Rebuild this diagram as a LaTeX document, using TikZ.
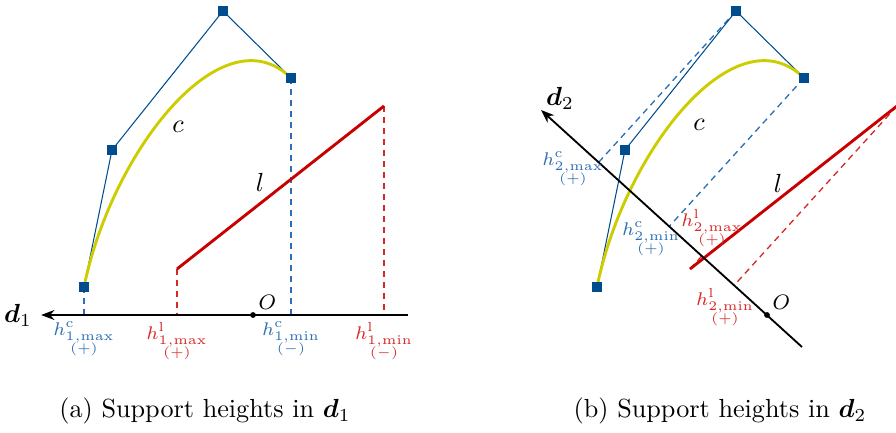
\documentclass[tikz,border=0pt]{standalone}
\usepackage{amsmath,amssymb,bm}
\usepackage{tikz}
\usetikzlibrary{positioning,arrows.meta,calc}
\usepackage{xcolor}
\definecolor{ctrlblue}{RGB}{0,76,140}
\definecolor{hblue}{RGB}{45,110,180}
\definecolor{cyellow}{RGB}{204,204,0}
\definecolor{lred}{RGB}{200,0,0}
\definecolor{hred}{RGB}{215,40,40}

\begin{document}
\begin{tikzpicture}[x=0.382pt,y=-0.382pt,>={Stealth[length=1.8mm]},
  ctrl/.style={rectangle,fill=ctrlblue,inner sep=0pt,minimum size=3.8pt},
  polyline/.style={ctrlblue,line width=0.4pt},
  bez/.style={cyellow,line width=1.1pt},
  seg/.style={lred,line width=1.1pt},
  proj/.style={dash pattern=on 2.4pt off 1.8pt,line width=0.5pt},
  axisline/.style={->,line width=0.7pt},
  origin/.style={circle,fill,inner sep=0pt,minimum size=2.2pt},
  olab/.style={font=\footnotesize,inner sep=1pt},
  hlab/.style={font=\scriptsize,align=center,inner sep=0.5pt}]
\useasboundingbox (0,0) rectangle (896,433);

% (a) support heights in d1
\coordinate (a0) at (84,287);
\coordinate (a1) at (112,150);
\coordinate (a2) at (223,11);
\coordinate (a3) at (291,78);
\coordinate (al0) at (177,269);
\coordinate (al1) at (384,106);
\coordinate (tail1) at (408,315);
\node (d1) at (18,315) {$\bm{d}_1$};
\coordinate (fa0) at ($(tail1)!(a0)!(d1)$);
\coordinate (fa3) at ($(tail1)!(a3)!(d1)$);
\coordinate (fal0) at ($(tail1)!(al0)!(d1)$);
\coordinate (fal1) at ($(tail1)!(al1)!(d1)$);
\draw[proj,hblue] (a0) -- (fa0);
\draw[proj,hblue] (a3) -- (fa3);
\draw[proj,hred] (al0) -- (fal0);
\draw[proj,hred] (al1) -- (fal1);
\draw[polyline] (a0) -- (a1) -- (a2) -- (a3);
\draw[bez] (a0) .. controls (a1) and (a2) .. (a3);
\draw[seg] (al0) -- (al1);
\foreach \p in {a0,a1,a2,a3}
  \node[ctrl] (sq\p) at (\p) {};
\draw[axisline] (tail1) -- (d1);
\node[origin] (o1) at (253,315) {};
\node[olab,above right=0pt and 0pt of o1] (o1lab) {$O$};
\node (ca) at (178,127) {$c$};
\node (la) at (260,182) {$l$};
\node[hlab,text=hblue,below=2pt of fa0] (ha0) {$h^{\mathrm{c}}_{1,\max}$\\[-1.5pt]{\tiny$(+)$}};
\node[hlab,text=hred,below=2pt of fal0] (hal0) {$h^{\mathrm{l}}_{1,\max}$\\[-1.5pt]{\tiny$(+)$}};
\node[hlab,text=hblue,below=2pt of fa3] (ha3) {$h^{\mathrm{c}}_{1,\min}$\\[-1.5pt]{\tiny$(-)$}};
\node[hlab,text=hred,below=2pt of fal1] (hal1) {$h^{\mathrm{l}}_{1,\min}$\\[-1.5pt]{\tiny$(-)$}};
\node (capa) at (205,411) {(a) Support heights in $\bm{d}_1$};

% (b) support heights in d2
\coordinate (b0) at (597,287);
\coordinate (b1) at (625,150);
\coordinate (b2) at (736,11);
\coordinate (b3) at (804,78);
\coordinate (bl0) at (690,269);
\coordinate (bl1) at (897,106);
\coordinate (tail2) at (802,347);
\coordinate (tip2) at (541,110);
\coordinate (fb2) at ($(tail2)!(b2)!(tip2)$);
\coordinate (fb3) at ($(tail2)!(b3)!(tip2)$);
\coordinate (fbl0) at ($(tail2)!(bl0)!(tip2)$);
\coordinate (fbl1) at ($(tail2)!(bl1)!(tip2)$);
\draw[proj,hblue] (b2) -- (fb2);
\draw[proj,hblue] (b3) -- (fb3);
\draw[proj,hred] (bl0) -- (fbl0);
\draw[proj,hred] (bl1) -- (fbl1);
\draw[polyline] (b0) -- (b1) -- (b2) -- (b3);
\draw[bez] (b0) .. controls (b1) and (b2) .. (b3);
\draw[seg] (bl0) -- (bl1);
\foreach \p in {b0,b1,b2,b3}
  \node[ctrl] (sq\p) at (\p) {};
\draw[axisline] (tail2) -- (tip2);
\node (d2) at (560,98) {$\bm{d}_2$};
\node[origin] (o2) at (767,315) {};
\node[olab,above right=0pt and 0pt of o2] (o2lab) {$O$};
\node (cb) at (699,125) {$c$};
\node (lb) at (778,183) {$l$};
\node[hlab,text=hblue] (hb2) at (573,169) {$h^{\mathrm{c}}_{2,\max}$\\[-1.5pt]{\tiny$(+)$}};
\node[hlab,text=hblue] (hb3) at (651,239) {$h^{\mathrm{c}}_{2,\min}$\\[-1.5pt]{\tiny$(+)$}};
\node[hlab,text=hred] (hbl0) at (712,228) {$h^{\mathrm{l}}_{2,\max}$\\[-1.5pt]{\tiny$(+)$}};
\node[hlab,text=hred] (hbl1) at (725,307) {$h^{\mathrm{l}}_{2,\min}$\\[-1.5pt]{\tiny$(+)$}};
\node (capb) at (720,411) {(b) Support heights in $\bm{d}_2$};
\end{tikzpicture}
\end{document}
